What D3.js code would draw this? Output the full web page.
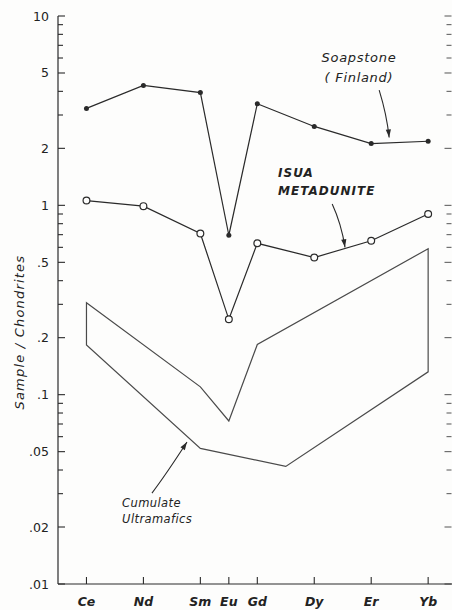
<!DOCTYPE html>
<html>
<head>
<meta charset="utf-8">
<script src="https://cdn.jsdelivr.net/npm/d3@7"></script>
<style>
  html, body { margin: 0; padding: 0; background: #fdfdfc; }
  svg { display: block; }
  text { font-family: "DejaVu Sans", "Liberation Sans", sans-serif; fill: #222; }
</style>
</head>
<body>
<svg id="chart" width="452" height="610"></svg>
<script>
// Rare earth elements (x position = atomic number)
const elements = ["Ce", "Nd", "Sm", "Eu", "Gd", "Dy", "Er", "Yb"];
const atomicNumbers = [58, 60, 62, 63, 64, 66, 68, 70];

// Chondrite-normalised abundances
const soapstone = [3.25, 4.3, 3.94, 0.695, 3.44, 2.61, 2.12, 2.18];
const isuaMetadunite = [1.06, 0.99, 0.71, 0.25, 0.63, 0.53, 0.65, 0.90];

// Envelope of cumulate ultramafics: upper and lower boundaries
const cumulateUpperZ = [58, 62, 63, 64, 70];
const cumulateUpper = [0.306, 0.11, 0.0726, 0.184, 0.59];
const cumulateLowerZ = [58, 62, 65, 70];
const cumulateLower = [0.183, 0.052, 0.0418, 0.132];

// Log-axis tick labels
const yTickValues = [10, 5, 2, 1, 0.5, 0.2, 0.1, 0.05, 0.02, 0.01];
const yTickLabels = ["10", "5", "2", "1", ".5", ".2", ".1", ".05", ".02", ".01"];

const svg = d3.select("#chart");
const ink = "#2a2a2a";

const x = d3.scaleLinear().domain([57, 70.75]).range([58, 449.5]);
const y = d3.scaleLog().domain([0.01, 10]).range([584, 16]);

// Minor ticks for each decade
const minorTicks = [];
[0.01, 0.1, 1].forEach(base => {
  for (let k = 1; k <= 9; k++) minorTicks.push(base * k);
});
minorTicks.push(10);
const isMajor = d => yTickValues.some(v => Math.abs(v - d) < 1e-9);

// Left axis
const left = svg.append("g").attr("transform", `translate(${x(57)},0)`);
left.append("line").attr("x1", 0).attr("x2", 0).attr("y1", y(10)).attr("y2", y(0.01))
  .attr("stroke", ink).attr("stroke-width", 1.2);
left.selectAll("line.minor").data(minorTicks).join("line")
  .attr("class", "minor")
  .attr("x1", 0).attr("x2", d => isMajor(d) ? 7 : 5)
  .attr("y1", d => y(d)).attr("y2", d => y(d))
  .attr("stroke", ink).attr("stroke-width", 1.1);
left.selectAll("text").data(yTickValues).join("text")
  .attr("x", -9).attr("y", d => y(d)).attr("dy", "0.36em")
  .attr("text-anchor", "end").attr("font-size", 12.5)
  .text((d, i) => yTickLabels[i]);

// Right axis ticks
const right = svg.append("g").attr("transform", `translate(451.5,0)`);
right.selectAll("line").data(minorTicks).join("line")
  .attr("x1", 0).attr("x2", d => isMajor(d) ? -7 : -5)
  .attr("y1", d => y(d)).attr("y2", d => y(d))
  .attr("stroke", "#555").attr("stroke-width", 1);

// Bottom axis
const bottom = svg.append("g").attr("transform", `translate(0,${y(0.01)})`);
bottom.append("line").attr("x1", x(57)).attr("x2", 452).attr("y1", 0).attr("y2", 0)
  .attr("stroke", ink).attr("stroke-width", 1.2);
bottom.selectAll("line.tick").data(atomicNumbers).join("line")
  .attr("class", "tick")
  .attr("x1", d => x(d)).attr("x2", d => x(d)).attr("y1", 0).attr("y2", -7)
  .attr("stroke", ink).attr("stroke-width", 1.1);
bottom.selectAll("text").data(atomicNumbers).join("text")
  .attr("x", d => x(d)).attr("y", 22)
  .attr("text-anchor", "middle").attr("font-size", 12.5)
  .attr("font-style", "italic").attr("font-weight", "bold")
  .text((d, i) => elements[i]);

// Y axis title
svg.append("text")
  .attr("transform", `translate(24,${y(0.214)}) rotate(-90)`)
  .attr("text-anchor", "middle").attr("font-size", 13)
  .attr("font-style", "italic").attr("letter-spacing", 1.2)
  .text("Sample / Chondrites");

// Cumulate ultramafics envelope
const line = d3.line().x(d => x(d[0])).y(d => y(d[1]));
const upperPts = cumulateUpperZ.map((z, i) => [z, cumulateUpper[i]]);
const lowerPts = cumulateLowerZ.map((z, i) => [z, cumulateLower[i]]);
const envelope = upperPts.concat(lowerPts.slice().reverse());
svg.append("path")
  .attr("d", line(envelope) + "Z")
  .attr("fill", "none").attr("stroke", "#4a4a4a").attr("stroke-width", 1.2);

// Series lines with markers
const soapPts = atomicNumbers.map((z, i) => [z, soapstone[i]]);
const isuaPts = atomicNumbers.map((z, i) => [z, isuaMetadunite[i]]);

svg.append("path").attr("d", line(soapPts))
  .attr("fill", "none").attr("stroke", ink).attr("stroke-width", 1.2);
svg.selectAll("circle.soap").data(soapPts).join("circle")
  .attr("class", "soap")
  .attr("cx", d => x(d[0])).attr("cy", d => y(d[1])).attr("r", 2.5)
  .attr("fill", ink);

svg.append("path").attr("d", line(isuaPts))
  .attr("fill", "none").attr("stroke", ink).attr("stroke-width", 1.2);
svg.selectAll("circle.isua").data(isuaPts).join("circle")
  .attr("class", "isua")
  .attr("cx", d => x(d[0])).attr("cy", d => y(d[1])).attr("r", 3.4)
  .attr("fill", "#fdfdfc").attr("stroke", ink).attr("stroke-width", 1.2);

// Annotation arrows (curved stem with filled head)
function arrow(x0, y0, cx, cy, x1, y1) {
  svg.append("path")
    .attr("d", `M${x0},${y0} Q${cx},${cy} ${x1},${y1}`)
    .attr("fill", "none").attr("stroke", ink).attr("stroke-width", 1.1);
  const ang = Math.atan2(y1 - cy, x1 - cx);
  const len = 8, half = 2.6;
  const bx = x1 - len * Math.cos(ang), by = y1 - len * Math.sin(ang);
  const px = -Math.sin(ang) * half, py = Math.cos(ang) * half;
  svg.append("path")
    .attr("d", `M${x1},${y1} L${bx + px},${by + py} L${bx - px},${by - py} Z`)
    .attr("fill", ink);
}

// Soapstone label
const soapLabel = svg.append("text").attr("text-anchor", "middle")
  .attr("font-family", "Liberation Sans, Arial, sans-serif")
  .attr("font-size", 13).attr("font-style", "italic").attr("letter-spacing", 0.7);
soapLabel.append("tspan").attr("x", x(67.57)).attr("y", y(5.7)).text("Soapstone");
soapLabel.append("tspan").attr("x", x(67.57)).attr("y", y(4.48)).text("( Finland)");
arrow(x(68.28), y(4.06), x(68.55), y(3.0), x(68.63), y(2.28));

// Isua metadunite label
const isuaLabel = svg.append("text").attr("text-anchor", "start")
  .attr("font-size", 12).attr("font-style", "italic").attr("font-weight", "bold")
  .attr("letter-spacing", 1.0);
isuaLabel.append("tspan").attr("x", x(64.73)).attr("y", y(1.41)).text("ISUA");
isuaLabel.append("tspan").attr("x", x(64.73)).attr("y", y(1.13)).text("METADUNITE");
arrow(x(66.63), y(1.016), x(66.95), y(0.8), x(67.08), y(0.6));

// Cumulate ultramafics label
const cumLabel = svg.append("text").attr("text-anchor", "start")
  .attr("font-family", "Liberation Sans, Arial, sans-serif")
  .attr("font-size", 11.5).attr("font-style", "italic").attr("letter-spacing", 0.4);
cumLabel.append("tspan").attr("x", x(59.25)).attr("y", y(0.0255)).text("Cumulate");
cumLabel.append("tspan").attr("x", x(59.25)).attr("y", y(0.0211)).text("Ultramafics");
arrow(x(60.3), y(0.0302), x(60.8), y(0.038), x(61.53), y(0.0562));
</script>
</body>
</html>
